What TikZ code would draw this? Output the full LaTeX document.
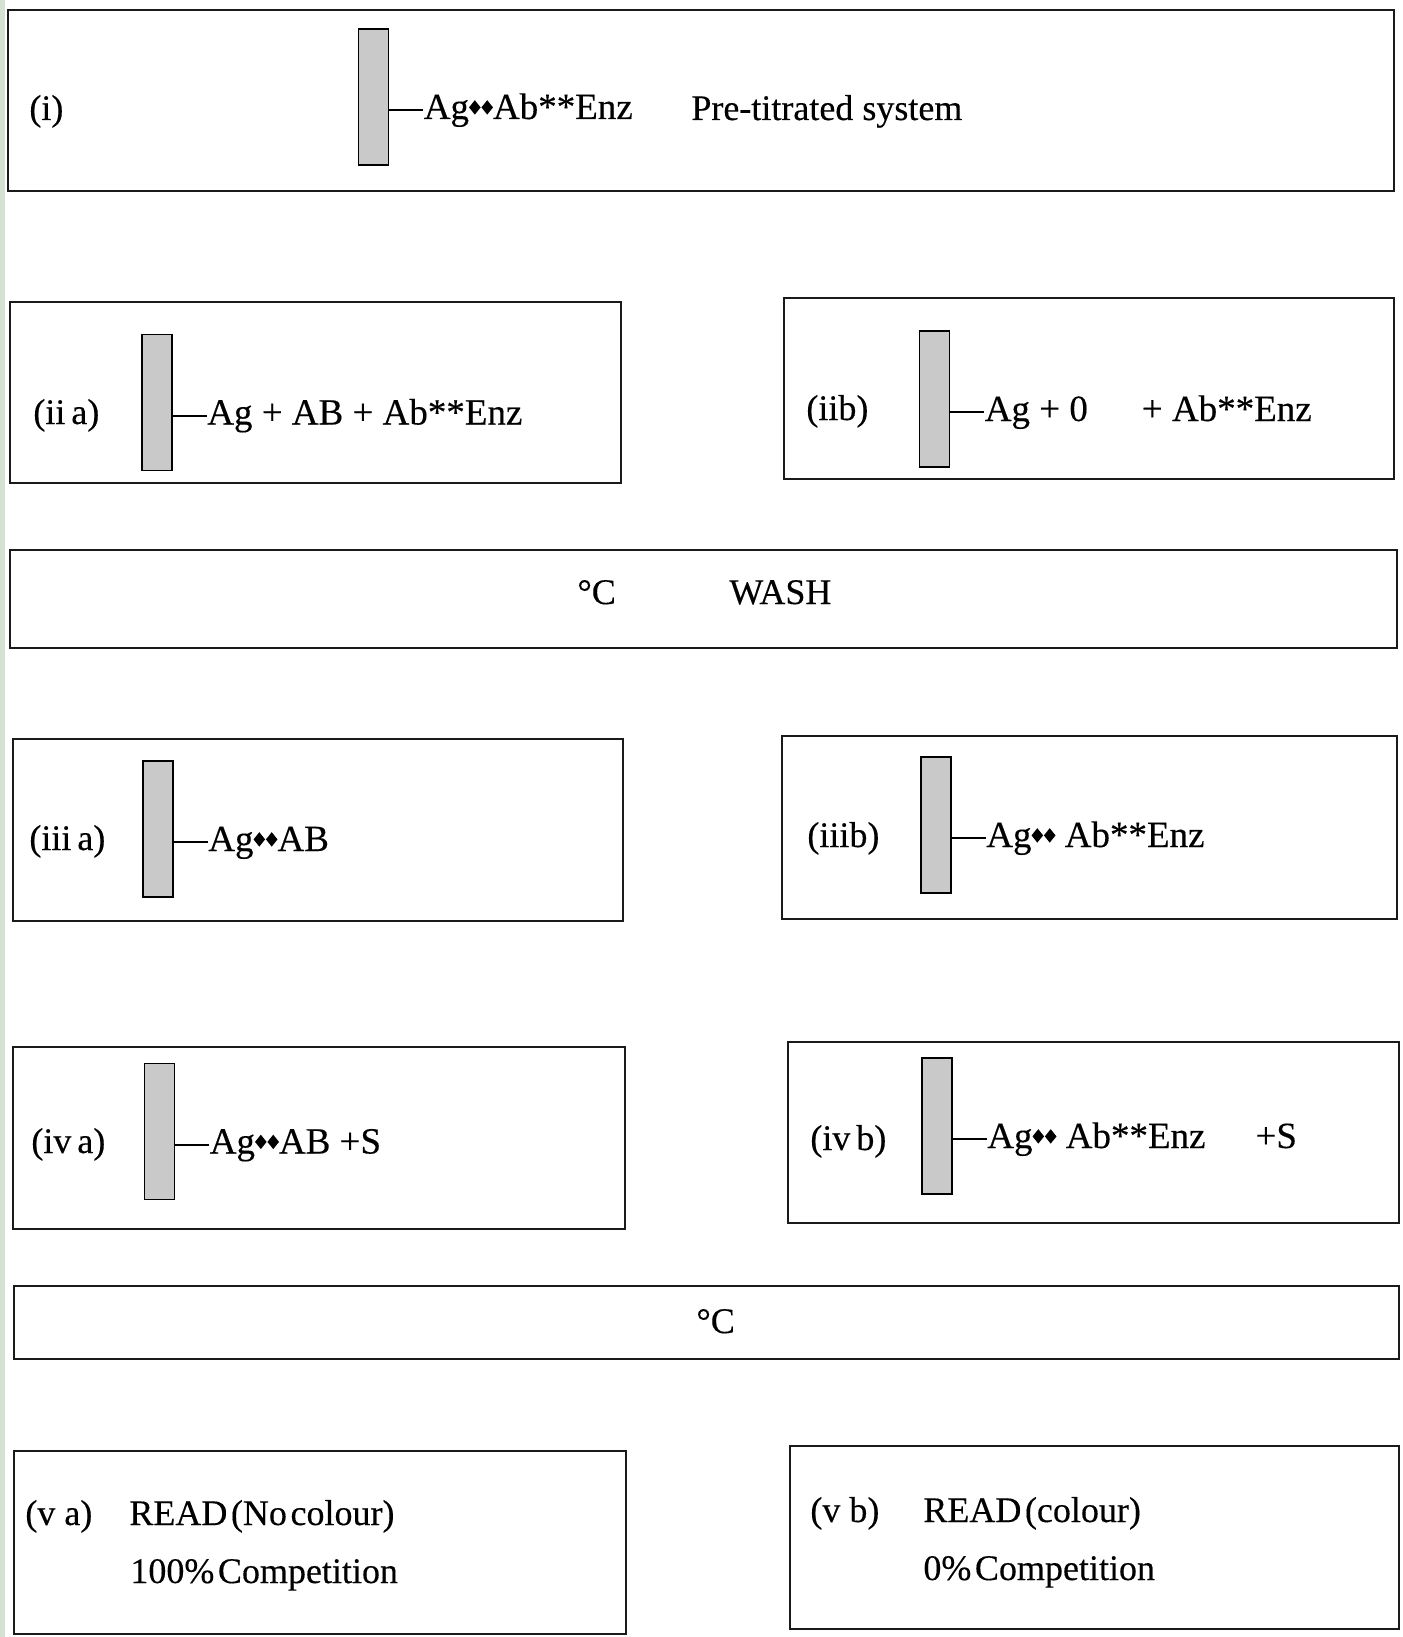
\documentclass[tikz,border=0pt]{standalone}
\usepackage{fontspec}
\setmainfont[FakeBold=0.3]{Liberation Serif}
\newfontfamily\tightfont[WordSpace=0.4,FakeBold=0.3]{Liberation Serif}
\usepackage{tikz}
\usetikzlibrary{positioning}
\definecolor{frameline}{HTML}{1A1A1A}
\definecolor{platefill}{HTML}{C9C9C9}
\definecolor{edgestrip}{HTML}{D4E2D2}
\tikzset{
  panel/.style={
    draw=frameline,
    line width=1.1pt,
    fill=white,
    inner sep=0pt
  },
  plate/.style={
    draw=black,
    line width=0.9pt,
    fill=platefill,
    minimum width=15pt,
    minimum height=68pt,
    inner sep=0pt
  },
  chem/.style={
    font=\fontsize{18.5}{21}\selectfont,
    anchor=west,
    inner sep=0pt,
    text height=12.5pt,
    text depth=3.5pt
  },
  tag/.style={chem, font=\fontsize{18}{21}\selectfont},
  readout/.style={chem, font=\tightfont\fontsize{18}{21}\selectfont},
  tether/.style={line width=1pt, draw=black}
}
\newcommand{\bind}{\tikz[x=1pt,y=1pt,baseline=0pt]{%
  \fill (0.3,5.8)--(3.2,9.4)--(6.1,5.8)--(3.2,2.2)--cycle;
  \fill (6.5,5.8)--(9.4,9.4)--(12.3,5.8)--(9.4,2.2)--cycle;}}

\begin{document}
\begin{tikzpicture}[x=0.5pt,y=-0.5pt]
\useasboundingbox (0,0) rectangle (1402,1637);
\fill[white] (0,0) rectangle (1402,1637);
\fill[edgestrip] (0,0) rectangle (5,1637);

\foreach \n/\x/\y/\w/\h in {i/701/100.5/693/90.5, iia/315.5/392.5/305.5/90.5, iib/1089/388.5/305/90.5,
    wash/703.5/599/693.5/49, iiia/318/830/305/91, iiib/1089.5/827.5/307.5/91.5,
    iva/319/1138/306/91, ivb/1093.5/1132.5/305.5/90.5, temp/706.5/1322.5/692.5/36.5,
    va/320/1542.5/306/91.5, vb/1094.5/1537.5/304.5/91.5}
  \node[panel, minimum width=\w*1pt, minimum height=\h*1pt] (box\n) at (\x,\y) {};

\foreach \n/\x/\y in {i/373.5/97, iia/157/402.5, iib/934.5/399, iiia/158/829,
    iiib/936/825, iva/159.5/1131.5, ivb/937/1126}
  \node[plate] (plate\n) at (\x,\y) {};

\node[tag] (tagi) at (29,111) {(i)};
\node[tag] (tagiia) at (33,415) {(ii\,a)};
\node[tag] (tagiib) at (806,411) {(iib)};
\node[tag] (tagiiia) at (29,841) {(iii\,a)};
\node[tag] (tagiiib) at (807,838) {(iiib)};
\node[tag] (tagiva) at (31,1144) {(iv\,a)};
\node[tag] (tagivb) at (810,1141) {(iv\,b)};
\node[tag] (tagva) at (25,1516) {(v a)};
\node[tag] (tagvb) at (810,1513) {(v b)};

\node[chem, right=17pt of platei, yshift=-6.5pt] (chemi) {Ag\bind Ab**Enz};
\node[chem, right=17pt of plateiia, yshift=-6.5pt] (chemiia) {Ag + AB + Ab**Enz};
\node[chem, right=17pt of plateiib, yshift=-6.5pt] (chemiib) {Ag + 0\hspace{27pt}+ Ab**Enz};
\node[chem, right=17pt of plateiiia, yshift=-6.5pt] (chemiiia) {Ag\bind AB};
\node[chem, right=17pt of plateiiib, yshift=-6.5pt] (chemiiib) {Ag\bind\ Ab**Enz};
\node[chem, right=17pt of plateiva, yshift=-6.5pt] (chemiva) {Ag\bind AB +S};
\node[chem, right=17pt of plateivb, yshift=-6.5pt] (chemivb) {Ag\bind\ Ab**Enz\hspace{25pt}+S};

\foreach \n in {i,iia,iib,iiia,iiib,iva,ivb}
  \draw[tether] (plate\n.east |- chem\n.west) -- (chem\n.west);

\node[tag] (pretitr) at (691,111) {Pre-titrated system};
\node[tag] (tempa) at (577,595) {°C};
\node[tag] (wash) at (729,595) {WASH};
\node[tag] (tempb) at (696,1324) {°C};
\node[readout] (reada) at (129,1516) {READ (No colour)};
\node[readout] (compa) at (130,1574) {100\% Competition};
\node[readout] (readb) at (923,1513) {READ (colour)};
\node[readout] (compb) at (923,1571) {0\% Competition};
\end{tikzpicture}
\end{document}
